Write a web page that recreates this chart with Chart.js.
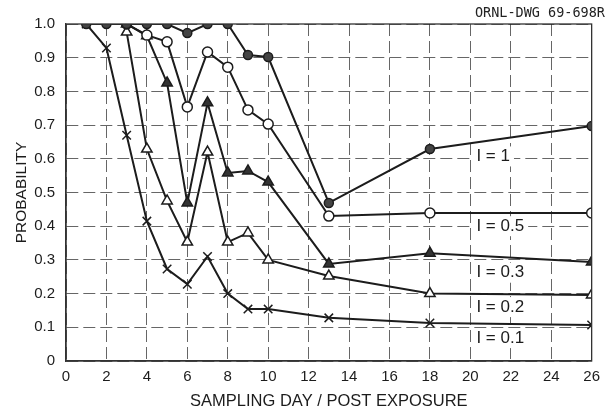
<!DOCTYPE html>
<html>
<head>
<meta charset="utf-8">
<script src="https://cdn.jsdelivr.net/npm/chart.js@4.4.1/dist/chart.umd.min.js"></script>
<style>
  body { margin: 0; background: #fff; }
  #wrap { position: relative; width: 607px; height: 413px; }
  #dwg {
    position: absolute; right: 2px; top: 4px;
    font: 13.5px "DejaVu Sans Mono", monospace; color: #222;
  }
</style>
</head>
<body>
<div id="wrap">
  <canvas id="chart"></canvas>
  <div id="dwg">ORNL-DWG 69-698R</div>
</div>
<script>
const xTickLabels = ["0", "2", "4", "6", "8", "10", "12", "14", "16", "18", "20", "22", "24", "26"];
const yTickLabels = ["0", "0.1", "0.2", "0.3", "0.4", "0.5", "0.6", "0.7", "0.8", "0.9", "1.0"];

const daysI1 = [1, 2, 3, 4, 5, 6, 7, 8, 9, 10, 13, 18, 26];
const probI1 = [1.0, 1.0, 1.0, 1.0, 1.0, 0.973, 1.0, 1.0, 0.908, 0.902, 0.469, 0.629, 0.697];

const daysI05 = [3, 4, 5, 6, 7, 8, 9, 10, 13, 18, 26];
const probI05 = [1.0, 0.967, 0.947, 0.754, 0.917, 0.872, 0.745, 0.703, 0.43, 0.439, 0.439];

const daysI03 = [3, 4, 5, 6, 7, 8, 9, 10, 13, 18, 26];
const probI03 = [1.0, 0.965, 0.825, 0.469, 0.766, 0.558, 0.564, 0.531, 0.288, 0.32, 0.294];

const daysI02 = [3, 4, 5, 6, 7, 8, 9, 10, 13, 18, 26];
const probI02 = [0.976, 0.629, 0.475, 0.353, 0.62, 0.353, 0.38, 0.30, 0.252, 0.20, 0.196];

const daysI01 = [1, 2, 3, 4, 5, 6, 7, 8, 9, 10, 13, 18, 26];
const probI01 = [1.0, 0.929, 0.67, 0.415, 0.273, 0.228, 0.31, 0.20, 0.154, 0.154, 0.128, 0.113, 0.107];

const curveLabels = ["I = 1", "I = 0.5", "I = 0.3", "I = 0.2", "I = 0.1"];
const curveLabelDay = [20.3, 20.3, 20.3, 20.3, 20.3];
const curveLabelProb = [0.607, 0.40, 0.262, 0.16, 0.068];

const font = "'Liberation Sans', Arial, sans-serif";
const ink = "#1c1c1c";

function points(days, probs) {
  return days.map((d, i) => ({ x: d, y: probs[i] }));
}

function series(days, probs, style, radius, fill) {
  return {
    data: points(days, probs),
    borderColor: ink,
    borderWidth: 2,
    pointStyle: style,
    pointRadius: radius,
    pointBackgroundColor: fill,
    pointBorderColor: ink,
    pointBorderWidth: 1.5,
    tension: 0,
  };
}

const frame = {
  id: "frame",
  afterDraw(chart) {
    const { ctx, chartArea: a } = chart;
    ctx.save();
    ctx.strokeStyle = "#333";
    ctx.lineWidth = 1.3;
    ctx.strokeRect(a.left, a.top, a.right - a.left, a.bottom - a.top);
    ctx.restore();
  },
};

const curveText = {
  id: "curveText",
  afterDatasetsDraw(chart) {
    const { ctx, scales } = chart;
    ctx.save();
    ctx.font = `17px ${font}`;
    ctx.textBaseline = "middle";
    curveLabels.forEach((text, i) => {
      const x = scales.x.getPixelForValue(curveLabelDay[i]);
      const y = scales.y.getPixelForValue(curveLabelProb[i]);
      const w = ctx.measureText(text).width;
      ctx.fillStyle = "#fff";
      ctx.fillRect(x - 4, y - 10, w + 8, 20);
      ctx.fillStyle = ink;
      ctx.fillText(text, x, y);
    });
    ctx.restore();
  },
};

new Chart(document.querySelector("#chart"), {
  type: "line",
  data: {
    datasets: [
      series(daysI1, probI1, "circle", 4.5, "#444"),
      series(daysI05, probI05, "circle", 5, "#fff"),
      series(daysI03, probI03, "triangle", 6, "#333"),
      series(daysI02, probI02, "triangle", 6, "#fff"),
      series(daysI01, probI01, "crossRot", 6, "#fff"),
    ],
  },
  options: {
    responsive: true,
    maintainAspectRatio: false,
    animation: false,
    layout: { padding: { top: 24, right: 13, left: 0, bottom: 0 } },
    plugins: {
      legend: { display: false },
      tooltip: { enabled: false },
    },
    scales: {
      x: {
        type: "linear",
        min: 0,
        max: 26,
        afterFit(scale) { scale.height = 52; },
        ticks: {
          stepSize: 2,
          padding: 7,
          color: ink,
          font: { family: font, size: 15 },
          maxRotation: 0,
          callback: (value, index) => xTickLabels[index],
        },
        grid: { color: "rgba(0,0,0,0.6)", lineWidth: 1, drawTicks: false },
        border: { color: "#333", width: 1.3, dash: [12, 5] },
        title: {
          display: true,
          text: "SAMPLING DAY / POST EXPOSURE",
          color: ink,
          font: { family: font, size: 16.5 },
          padding: { top: 0, bottom: 2 },
        },
      },
      y: {
        min: 0,
        max: 1,
        afterFit(scale) { scale.width = 66; },
        ticks: {
          stepSize: 0.1,
          padding: 11,
          color: ink,
          font: { family: font, size: 15 },
          callback: (value, index) => yTickLabels[index],
        },
        grid: { color: "rgba(0,0,0,0.6)", lineWidth: 1, drawTicks: false },
        border: { color: "#333", width: 1.3, dash: [12, 5] },
        title: {
          display: true,
          text: "PROBABILITY",
          color: ink,
          font: { family: font, size: 15.5 },
          padding: { top: 12, bottom: 0 },
        },
      },
    },
  },
  plugins: [frame, curveText],
});
</script>
</body>
</html>
